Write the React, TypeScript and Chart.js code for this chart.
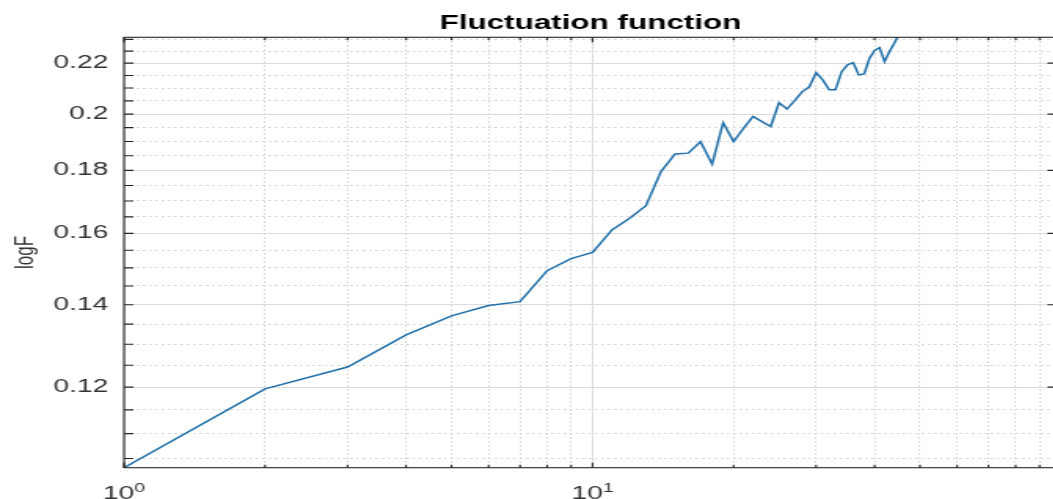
import React, { useEffect, useRef } from "react";
import { Chart, registerables } from "chart.js";

Chart.register(...registerables);

// ---------- data ----------
const windowSizes = [
  1, 2, 3, 4, 5, 6, 7, 8, 9, 10, 11, 12, 13, 14, 15, 16, 17, 18, 19, 20, 21, 22,
  23, 24, 25, 26, 27, 28, 29, 30, 31, 32, 33, 34, 35, 36, 37, 38, 39, 40, 41,
  42, 43, 44, 45,
];
const logF = [
  0.1032, 0.1196, 0.1246, 0.1323, 0.1371, 0.1398, 0.1408, 0.1492, 0.1526,
  0.1544, 0.161, 0.1646, 0.1685, 0.1796, 0.1856, 0.1859, 0.1899, 0.1821,
  0.1968, 0.19, 0.1947, 0.1991, 0.1972, 0.1954, 0.2043, 0.2019, 0.2051, 0.2085,
  0.2104, 0.2161, 0.2132, 0.2093, 0.2093, 0.2164, 0.2193, 0.2202, 0.2152,
  0.2156, 0.222, 0.2253, 0.2265, 0.2206, 0.2247, 0.2281, 0.2319,
];
const xMajorTicks = [1, 10];
const xMinorTicks = [2, 3, 4, 5, 6, 7, 8, 9, 20, 30, 40, 50, 60, 70, 80, 90];
const xTickBase = "10";
const xTickExponents = ["0", "1"];
const yMajorTicks = [0.12, 0.14, 0.16, 0.18, 0.2, 0.22];
const yMinorTicks = [
  0.105, 0.11, 0.115, 0.125, 0.13, 0.135, 0.145, 0.15, 0.155, 0.165, 0.17,
  0.175, 0.185, 0.19, 0.195, 0.205, 0.21, 0.215, 0.225, 0.23,
];
const xRange = [1, 98];
const yRange = [0.1032, 0.2309];
const chartTitle = "Fluctuation function";
const yTitle = "logF";

// ---------- layout ----------
const STRETCH = 1.57;
const W0 = 690;
const H = 499;
const FONT = "'Liberation Sans', Arial, Helvetica, sans-serif";
const AXIS_COLOR = "#262626";
const LABEL_COLOR = "#333333";

const framePlugin = {
  id: "matlabFrame",
  afterDraw(chart: any) {
    const { ctx, chartArea: a } = chart;
    const xs = chart.scales.x;
    const ys = chart.scales.y;
    ctx.save();
    ctx.strokeStyle = AXIS_COLOR;
    ctx.lineWidth = 1.1;
    ctx.beginPath();
    for (const v of [...yMajorTicks, ...yMinorTicks]) {
      const py = ys.getPixelForValue(v);
      ctx.moveTo(a.left, py);
      ctx.lineTo(a.left + 6, py);
    }
    for (const v of yMajorTicks) {
      const py = ys.getPixelForValue(v);
      ctx.moveTo(a.right, py);
      ctx.lineTo(a.right - 6, py);
    }
    for (const v of [...xMajorTicks, ...xMinorTicks]) {
      const px = xs.getPixelForValue(v);
      const len = xMajorTicks.includes(v) ? 5 : 3;
      ctx.moveTo(px, a.bottom);
      ctx.lineTo(px, a.bottom - len);
      ctx.moveTo(px, a.top);
      ctx.lineTo(px, a.top + len);
    }
    ctx.stroke();
    ctx.strokeRect(a.left, a.top, a.right - a.left, a.bottom - a.top);

    // x tick labels 10^n
    ctx.fillStyle = LABEL_COLOR;
    ctx.textBaseline = "alphabetic";
    ctx.textAlign = "left";
    xMajorTicks.forEach((v, i) => {
      const px = xs.getPixelForValue(v);
      ctx.font = `18px ${FONT}`;
      const wb = ctx.measureText(xTickBase).width;
      ctx.font = `12.5px ${FONT}`;
      const we = ctx.measureText(xTickExponents[i]).width;
      const x0 = px - (wb + we) / 2;
      ctx.font = `18px ${FONT}`;
      ctx.fillText(xTickBase, x0, 499);
      ctx.font = `12.5px ${FONT}`;
      ctx.fillText(xTickExponents[i], x0 + wb, 492);
    });
    ctx.restore();
  },
};

export default function App() {
  const ref = useRef<HTMLCanvasElement>(null);

  useEffect(() => {
    const yAllTicks = [...yMinorTicks, ...yMajorTicks].sort((p, q) => p - q);
    const xAllTicks = [...xMinorTicks, ...xMajorTicks].sort((p, q) => p - q);
    const chart = new Chart(ref.current as HTMLCanvasElement, {
      type: "line",
      data: {
        datasets: [
          {
            label: yTitle,
            data: windowSizes.map((s, i) => ({ x: s, y: logF[i] })),
            borderColor: "#1f6fa8",
            borderWidth: 1.5,
            pointRadius: 0,
            tension: 0,
            fill: false,
          },
        ],
      },
      options: {
        responsive: false,
        animation: false,
        layout: { padding: { left: 0, right: W0 - 673.2, top: 0, bottom: 0 } },
        plugins: {
          legend: { display: false },
          tooltip: { enabled: false },
          title: {
            display: true,
            text: chartTitle,
            fullSize: false,
            color: "#000",
            font: { family: FONT, size: 20, weight: "bold" },
            padding: { top: 11, bottom: 2.3 },
          },
        },
        scales: {
          x: {
            type: "logarithmic",
            min: xRange[0],
            max: xRange[1],
            afterBuildTicks: (s: any) => {
              s.ticks = xAllTicks.map((v) => ({ value: v }));
            },
            afterFit: (s: any) => {
              s.height = H - 467.7;
            },
            ticks: { display: false, autoSkip: false },
            grid: {
              drawTicks: false,
              lineWidth: 1,
              color: (c: any) =>
                c.tick && xMajorTicks.includes(c.tick.value) ? "#dcdcdc" : "#d0d0d0",
            },
            border: {
              display: false,
              dash: (c: any) =>
                c.tick && !xMajorTicks.includes(c.tick.value) ? [1.5, 2.5] : [],
            },
          },
          y: {
            type: "logarithmic",
            min: yRange[0],
            max: yRange[1],
            afterBuildTicks: (s: any) => {
              s.ticks = yAllTicks.map((v) => ({ value: v }));
            },
            afterFit: (s: any) => {
              s.width = 79;
            },
            ticks: {
              autoSkip: false,
              padding: 10,
              color: LABEL_COLOR,
              font: { family: FONT, size: 18 },
              callback: (v: any) => (yMajorTicks.includes(v) ? String(v) : ""),
            },
            grid: {
              drawTicks: false,
              lineWidth: 1,
              color: (c: any) =>
                c.tick && yMajorTicks.includes(c.tick.value) ? "#dcdcdc" : "#d0d0d0",
            },
            border: {
              display: false,
              dash: (c: any) =>
                c.tick && !yMajorTicks.includes(c.tick.value) ? [1.5, 2.5] : [],
            },
            title: {
              display: true,
              text: yTitle,
              color: LABEL_COLOR,
              font: { family: FONT, size: 17 },
              padding: { top: 6, bottom: 0 },
            },
          },
        },
      } as any,
      plugins: [framePlugin],
    });
    return () => chart.destroy();
  }, []);

  return (
    <div
      style={{
        position: "fixed",
        left: 0,
        top: 0,
        width: 1053,
        height: H,
        overflow: "hidden",
        background: "#fff",
      }}
    >
      <div
        style={{
          width: W0,
          height: H,
          transform: `scaleX(${STRETCH})`,
          transformOrigin: "0 0",
        }}
      >
        <canvas ref={ref} width={W0} height={H} style={{ display: "block" }} />
      </div>
    </div>
  );
}
